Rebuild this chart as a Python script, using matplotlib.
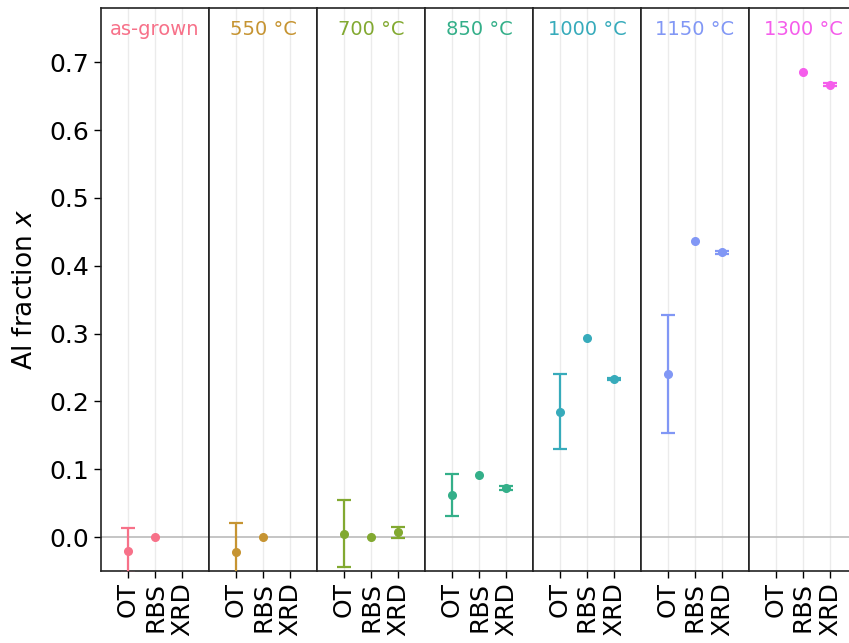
import matplotlib
matplotlib.use("Agg")
import matplotlib.pyplot as plt
import numpy as np

panels = ["as-grown", "550 °C", "700 °C", "850 °C", "1000 °C", "1150 °C", "1300 °C"]
methods = ["OT", "RBS", "XRD"]
colors = ["#f77189", "#c69432", "#82a931", "#34af89", "#37abbb", "#8197f5", "#f55deb"]

# values per panel: [OT, RBS, XRD] (nan = missing)
values = [
    [-0.020, 0.000, np.nan],
    [-0.022, 0.000, np.nan],
    [0.005, 0.000, 0.007],
    [0.062, 0.092, 0.072],
    [0.185, 0.294, 0.233],
    [0.240, 0.437, 0.420],
    [np.nan, 0.685, 0.667],
]
errors = [
    [0.033, 0.0, 0.0],
    [0.043, 0.0, 0.0],
    [0.049, 0.0, 0.008],
    [0.0315, 0.0, 0.003],
    [0.0555, 0.0, 0.002],
    [0.087, 0.0, 0.002],
    [0.0, 0.0, 0.002],
]
has_err = [
    [True, False, False],
    [True, False, False],
    [True, False, True],
    [True, False, True],
    [True, False, True],
    [True, False, True],
    [False, False, True],
]

fig, axes = plt.subplots(1, 7, figsize=(8.49, 6.43), dpi=100, sharey=True)
fig.subplots_adjust(left=0.119, right=1.0094, top=0.9876, bottom=0.112, wspace=0)

for i, ax in enumerate(axes):
    c = colors[i]
    ax.axhline(0, color="#bbbbbb", lw=1.2, zorder=1)
    for j in range(3):
        ax.axvline(j, color="#ebebeb", lw=1, zorder=0)
        v = values[i][j]
        if np.isnan(v):
            continue
        if has_err[i][j]:
            ax.errorbar(j, v, yerr=errors[i][j], fmt="o", color=c, ms=5.5,
                        elinewidth=1.6, capsize=5, capthick=1.6, zorder=3)
        else:
            ax.plot(j, v, "o", color=c, ms=5.5, zorder=3)
    ax.set_xlim(-1, 3)
    ax.set_xticks(range(3))
    ax.set_xticklabels(methods, rotation=90, fontsize=18)
    ax.text(0.5, 0.961, panels[i], transform=ax.transAxes, ha="center", va="center",
            color=c, fontsize=14)
    for s in ax.spines.values():
        s.set_color("#222222")
        s.set_linewidth(1.2)
    ax.tick_params(axis="x", length=5, width=1, pad=3)
    if i > 0:
        ax.tick_params(axis="y", left=False)

axes[0].set_ylim(-0.05, 0.78)
axes[0].set_yticks(np.arange(0, 0.71, 0.1))
axes[0].set_yticklabels([f"{t:.1f}" for t in np.arange(0, 0.71, 0.1)])
axes[0].tick_params(axis="y", labelsize=18, length=5, width=1)
axes[0].set_ylabel("Al fraction $x$", fontsize=19, labelpad=8)

fig.savefig("out.png", dpi=100)
